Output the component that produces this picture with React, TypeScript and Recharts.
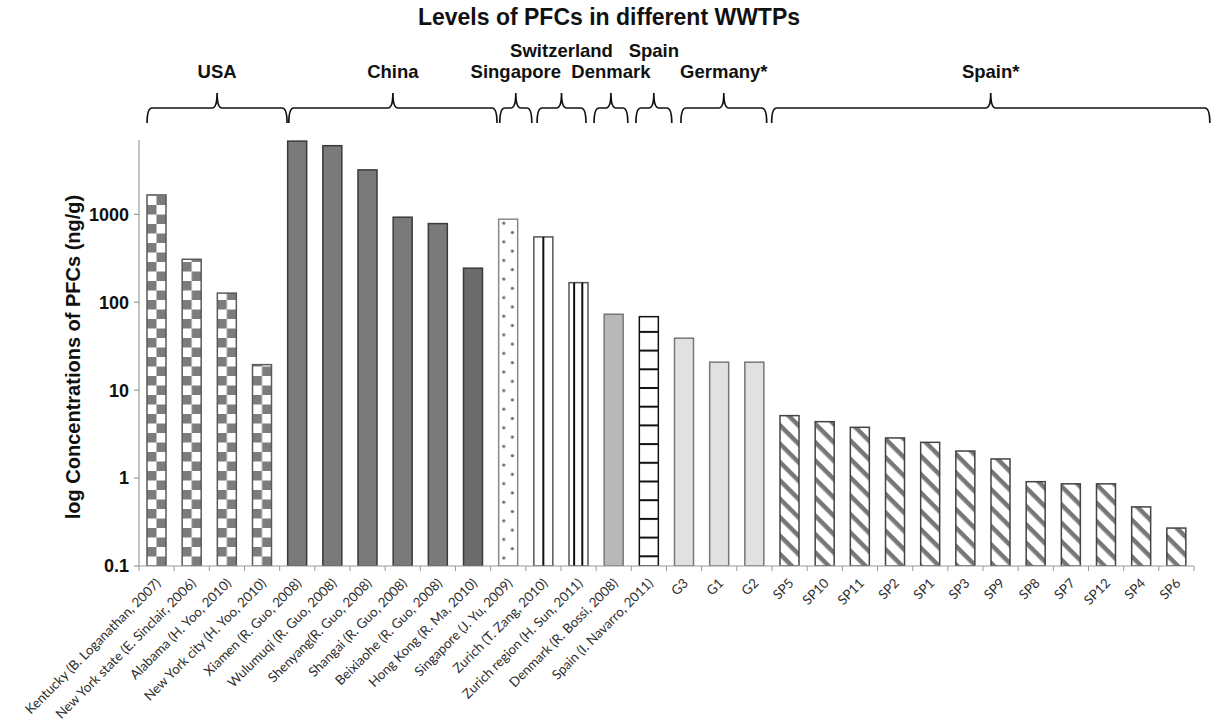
import {BarChart, Bar, XAxis, YAxis} from "recharts";

// WWTP / study labels along the x axis
const categories = [
    "Kentucky (B. Loganathan, 2007)",
    "New York state (E. Sinclair, 2006)",
    "Alabama (H. Yoo, 2010)",
    "New York city (H. Yoo, 2010)",
    "Xiamen (R. Guo, 2008)",
    "Wulumuqi (R. Guo, 2008)",
    "Shenyang(R. Guo, 2008)",
    "Shangai (R. Guo, 2008)",
    "Beixiaohe (R. Guo, 2008)",
    "Hong Kong (R. Ma, 2010)",
    "Singapore (J. Yu, 2009)",
    "Zurich (T. Zang, 2010)",
    "Zurich region (H. Sun, 2011)",
    "Denmark (R. Bossi, 2008)",
    "Spain (I. Navarro, 2011)",
    "G3", "G1", "G2",
    "SP5", "SP10", "SP11", "SP2", "SP1", "SP3", "SP9", "SP8", "SP7", "SP12", "SP4", "SP6",
];

// PFC concentrations, ng/g
const concentrations = [
    1660, 308, 127, 19.5,
    6800, 6030, 3200, 927, 784, 244,
    880,
    553, 167,
    73,
    68.5,
    39, 20.8, 20.8,
    5.13, 4.38, 3.78, 2.86, 2.55, 2.03, 1.65, 0.91, 0.86, 0.86, 0.47, 0.27,
];

// fill style of each bar
const barStyles = [
    "check", "check", "check", "check",
    "dark", "dark", "dark", "dark", "dark", "darker",
    "dots",
    "vline1", "vline2",
    "mid",
    "hlines",
    "light", "light", "light",
    "diag", "diag", "diag", "diag", "diag", "diag", "diag", "diag", "diag", "diag", "diag", "diag",
];

const yTicks = [0.1, 1, 10, 100, 1000];

// country groups drawn as braces above the bars (spans in category units)
const groupNames = ["USA", "China", "Singapore", "Switzerland", "Denmark", "Spain", "Germany*", "Spain*"];
const groupSpans: [number, number][] = [
    [0.23, 4.21], [4.26, 10.18], [10.26, 11.17], [11.32, 12.71],
    [12.94, 13.9], [14.13, 15.15], [15.41, 17.85], [17.99, 30.45],
];
const groupUpperRow = [false, false, false, true, false, true, false, false];

const W = 1220;
const H = 721;
const PLOT_LEFT = 139;
const PLOT_RIGHT = 1194;
const PLOT_TOP = 140;
const X_AXIS_H = 155;
const BAND = (PLOT_RIGHT - PLOT_LEFT) / categories.length;

const chartData = categories.map((name, i) => ({name, value: concentrations[i]}));

const AXIS_FONT = "'Liberation Sans', Arial, sans-serif";

const PatternBar = (props: any) => {
    const {x, y, width, height, index} = props;
    if (!height || height <= 0) return null;
    const kind = barStyles[index];
    const id = `bar-fill-${index}`;
    const bottom = y + height;
    let defs = null;
    let fill = "#fff";
    let stroke = "#555";

    switch (kind) {
        case "check": {
            const s = width / 2;
            defs = (
                <pattern id={id} patternUnits="userSpaceOnUse" x={x} y={bottom} width={width} height={width}>
                    <rect width={width} height={width} fill="#fff"/>
                    <rect x={0} y={0} width={s} height={s} fill="#7c7c7c"/>
                    <rect x={s} y={s} width={s} height={s} fill="#7c7c7c"/>
                </pattern>
            );
            fill = `url(#${id})`;
            stroke = "#5a5a5a";
            break;
        }
        case "dark":
            fill = "#7a7a7a";
            stroke = "#3a3a3a";
            break;
        case "darker":
            fill = "#6c6c6c";
            stroke = "#3a3a3a";
            break;
        case "dots":
            defs = (
                <pattern id={id} patternUnits="userSpaceOnUse" x={x} y={y} width={width} height={18.6}>
                    <rect width={width} height={18.6} fill="#fff"/>
                    <circle cx={width * 0.27} cy={4} r={1.6} fill="#666"/>
                    <circle cx={width * 0.72} cy={13.3} r={1.6} fill="#666"/>
                </pattern>
            );
            fill = `url(#${id})`;
            stroke = "#888";
            break;
        case "mid":
            fill = "#b8b8b8";
            stroke = "#777";
            break;
        case "light":
            fill = "#e1e1e1";
            stroke = "#777";
            break;
        case "hlines":
            defs = (
                <pattern id={id} patternUnits="userSpaceOnUse" x={x} y={bottom - 10.7} width={width} height={18.7}>
                    <rect width={width} height={18.7} fill="#fff"/>
                    <rect x={0} y={0} width={width} height={2} fill="#111"/>
                </pattern>
            );
            fill = `url(#${id})`;
            stroke = "#111";
            break;
        case "diag":
            defs = (
                <pattern id={id} patternUnits="userSpaceOnUse" x={x} y={bottom} width={13} height={13}
                         patternTransform="rotate(45)">
                    <rect width={13} height={13} fill="#fff"/>
                    <rect x={0} y={0} width={13} height={4.5} fill="#777"/>
                </pattern>
            );
            fill = `url(#${id})`;
            stroke = "#444";
            break;
        default:
            break;
    }

    return (
        <g>
            {defs && <defs>{defs}</defs>}
            <rect x={x} y={y} width={width} height={height} fill={fill} stroke={stroke} strokeWidth={1.5}/>
            {kind === "vline1" && (
                <line x1={x + width / 2} x2={x + width / 2} y1={y} y2={bottom} stroke="#111" strokeWidth={2}/>
            )}
            {kind === "vline2" && (
                <>
                    <line x1={x + width * 0.27} x2={x + width * 0.27} y1={y} y2={bottom} stroke="#111" strokeWidth={2}/>
                    <line x1={x + width * 0.7} x2={x + width * 0.7} y1={y} y2={bottom} stroke="#111" strokeWidth={2}/>
                </>
            )}
        </g>
    );
};

// rotated category label plus a tick mark on the category boundary
const CategoryTick = (props: any) => {
    const {x, y, payload, index} = props;
    const isLast = index === categories.length - 1;
    return (
        <g>
            <line x1={x - BAND / 2} x2={x - BAND / 2} y1={y - 8} y2={y - 3} stroke="#999"/>
            {isLast && <line x1={x + BAND / 2} x2={x + BAND / 2} y1={y - 8} y2={y - 3} stroke="#999"/>}
            <text
                transform={`translate(${x + 5}, ${y + 10}) rotate(-45)`}
                textAnchor="end"
                fontSize={13.3}
                fontFamily="Lato, 'Open Sans', sans-serif"
                fill="#2e2e2e"
            >
                {payload.value}
            </text>
        </g>
    );
};

const bracePath = (x0: number, x1: number) => {
    const xc = (x0 + x1) / 2;
    const yl = 108;
    const yEnd = 123;
    const yTip = 93;
    const r = 5;
    return [
        `M${x0},${yEnd}`,
        `Q${x0},${yl} ${x0 + r},${yl}`,
        `L${xc - r},${yl}`,
        `Q${xc},${yl} ${xc},${yTip}`,
        `Q${xc},${yl} ${xc + r},${yl}`,
        `L${x1 - r},${yl}`,
        `Q${x1},${yl} ${x1},${yEnd}`,
    ].join(" ");
};

function Annotations() {
    const toX = (u: number) => PLOT_LEFT + u * BAND;
    return (
        <svg width={W} height={H} style={{position: "absolute", left: 0, top: 0, pointerEvents: "none"}}>
            <text x={609} y={25} textAnchor="middle" fontSize={23} fontWeight="bold" fontFamily={AXIS_FONT}
                  fill="#111">
                Levels of PFCs in different WWTPs
            </text>
            {groupNames.map((g, i) => {
                const [a, b] = groupSpans[i];
                const x0 = toX(a);
                const x1 = toX(b);
                return (
                    <g key={g + i}>
                        <path d={bracePath(x0, x1)} fill="none" stroke="#111" strokeWidth={1.7}/>
                        <text x={(x0 + x1) / 2} y={groupUpperRow[i] ? 57 : 78} textAnchor="middle" fontSize={18.5}
                              fontWeight="bold" fontFamily={AXIS_FONT} fill="#111">
                            {g}
                        </text>
                    </g>
                );
            })}
            <text transform="translate(80, 357) rotate(-90)" textAnchor="middle" fontSize={20} fontWeight="bold"
                  fontFamily={AXIS_FONT} fill="#111">
                log Concentrations of PFCs (ng/g)
            </text>
        </svg>
    );
}

export default function App() {
    return (
        <div style={{position: "absolute", left: 0, top: 0, width: W, height: H, background: "#fff"}}>
            <BarChart
                width={W}
                height={H}
                data={chartData}
                margin={{top: PLOT_TOP, right: W - PLOT_RIGHT, bottom: 0, left: 0}}
                barSize={19}
            >
                <XAxis
                    dataKey="name"
                    interval={0}
                    height={X_AXIS_H}
                    tickLine={false}
                    axisLine={{stroke: "#999"}}
                    tick={<CategoryTick/>}
                />
                <YAxis
                    scale="log"
                    domain={[0.1, 7000]}
                    allowDataOverflow
                    ticks={yTicks}
                    width={PLOT_LEFT}
                    tickSize={5}
                    tickMargin={5}
                    axisLine={{stroke: "#888"}}
                    tickLine={{stroke: "#888"}}
                    tickFormatter={(v: number) => String(v)}
                    tick={{fontSize: 18, fontWeight: "bold", fill: "#111", fontFamily: AXIS_FONT}}
                />
                <Bar dataKey="value" shape={<PatternBar/>} isAnimationActive={false}/>
            </BarChart>
            <Annotations/>
        </div>
    );
}
